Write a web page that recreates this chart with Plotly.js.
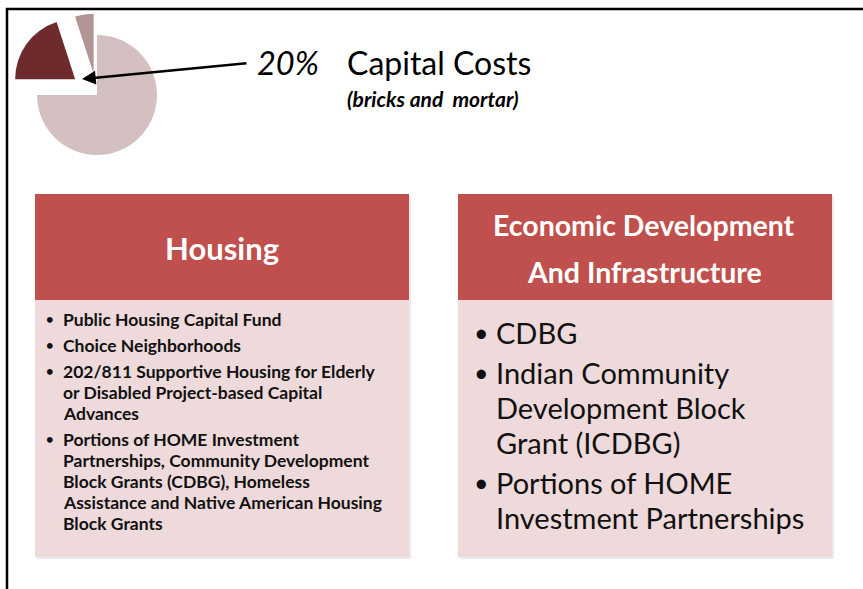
<!DOCTYPE html>
<html>
<head>
<meta charset="utf-8">
<script src="https://cdn.plot.ly/plotly-3.0.1.min.js"></script>
<style>html,body{margin:0;padding:0;background:#fff;}#chart{width:863px;height:589px;}</style>
</head>
<body>
<div id="chart"></div>
<script>
// ---- data ----
var pieLabels = ["Other costs", "Capital Costs", "Other"];
var pieValues = [75, 20, 5];
var piePull = [0, 0.45, 0.36];
var pieColors = ["#d5c0c1", "#6e2b2e", "#b39495"];

var calloutPercent = "20%";
var calloutTitle = "Capital Costs";
var calloutSubtitle = "(bricks and  mortar)";

var housingTitle = ["Housing"];
var housingItems = [
  ["Public Housing Capital Fund"],
  ["Choice Neighborhoods"],
  ["202/811 Supportive Housing for Elderly", "or Disabled Project-based Capital", "Advances"],
  ["Portions of HOME Investment", "Partnerships, Community Development", "Block Grants (CDBG), Homeless", "Assistance and Native American Housing", "Block Grants"]
];

var econTitle = ["Economic Development", "And Infrastructure"];
var econItems = [
  ["CDBG"],
  ["Indian Community", "Development Block", "Grant (ICDBG)"],
  ["Portions of HOME", "Investment Partnerships"]
];

// ---- layout helpers ----
var W = 863, H = 589;
var FONT = "Lato, 'Open Sans', sans-serif";
var headerColor = "#c0504d";
var bodyColor = "#eedada";

var shapes = [];
var annotations = [];

function addBox(x0, x1, yTop, yHead, yBot) {
  shapes.push({type: "rect", xref: "x", yref: "y", x0: x0 + 2, x1: x1 + 2, y0: yTop + 2, y1: yBot + 2,
    fillcolor: "rgba(0,0,0,0.08)", line: {width: 0}, layer: "below"});
  shapes.push({type: "rect", xref: "x", yref: "y", x0: x0, x1: x1, y0: yHead, y1: yBot,
    fillcolor: bodyColor, line: {width: 0}, layer: "below"});
  shapes.push({type: "rect", xref: "x", yref: "y", x0: x0, x1: x1, y0: yTop, y1: yHead,
    fillcolor: headerColor, line: {width: 0}, layer: "below"});
}

function addText(txt, x, y, size, opts) {
  opts = opts || {};
  annotations.push({
    xref: "x", yref: "y", x: x, y: y, text: txt, showarrow: false,
    xanchor: opts.xanchor || "left", yanchor: "middle",
    font: {family: FONT, size: size, color: opts.color || "#111", weight: opts.weight || "normal",
      style: opts.style || "normal"}
  });
}

function addItems(items, bulletX, textX, yStart, lineStep, itemGap, size, bulletSize, weight) {
  var y = yStart;
  items.forEach(function (lines) {
    addText("\u2022", bulletX, y, bulletSize, {weight: weight, xanchor: "center"});
    lines.forEach(function (ln) {
      addText(ln, textX, y, size, {weight: weight});
      y += lineStep;
    });
    y += itemGap;
  });
}

// Boxes
addBox(35, 409, 194, 300, 557);
addBox(458, 832, 194, 300, 557);

// Headers
addText(housingTitle[0], 222, 248, 31, {xanchor: "center", color: "#ffffff", weight: "bold"});
addText(econTitle[0], 644, 225, 28.5, {xanchor: "center", color: "#ffffff", weight: "bold"});
addText(econTitle[1], 644, 272, 28.5, {xanchor: "center", color: "#ffffff", weight: "bold"});

// Bodies
addItems(housingItems, 50, 61, 319, 21, 5, 17.5, 13, "bold");
addItems(econItems, 481, 494, 332, 35, 5, 29, 25, "normal");

// Callout
addText(calloutPercent, 288, 62, 32.5, {xanchor: "center", style: "italic", color: "#000"});
addText(calloutTitle, 345, 62, 32, {color: "#000"});
addText(calloutSubtitle, 345, 98, 21, {style: "italic", weight: "bold", color: "#000"});

// Arrow
annotations.push({xref: "x", yref: "y", axref: "x", ayref: "y", x: 82, y: 79, ax: 248, ay: 63,
  text: "", showarrow: true, arrowhead: 2, arrowsize: 1.1, arrowwidth: 2.5, arrowcolor: "#000"});

// Frame (top and left edges)
shapes.push({type: "line", xref: "x", yref: "y", x0: 6, x1: W, y0: 9, y1: 9, line: {color: "#000", width: 2.5}});
shapes.push({type: "line", xref: "x", yref: "y", x0: 7, x1: 7, y0: 8, y1: H, line: {color: "#000", width: 2.5}});

// Pie placement: center (97,95), radius 60
var cx = 97, cy = 95, r = 60;
var maxPull = Math.max.apply(null, piePull);
var half = r * (1 + maxPull);

var pie = {
  type: "pie",
  labels: pieLabels,
  values: pieValues,
  pull: piePull,
  sort: false,
  direction: "clockwise",
  rotation: 0,
  marker: {colors: pieColors, line: {width: 0}},
  textinfo: "none",
  hoverinfo: "none",
  showlegend: false,
  domain: {x: [(cx - half) / W, (cx + half) / W], y: [1 - (cy + half) / H, 1 - (cy - half) / H]}
};

var layout = {
  width: W, height: H,
  margin: {l: 0, r: 0, t: 0, b: 0},
  paper_bgcolor: "#ffffff", plot_bgcolor: "rgba(0,0,0,0)",
  xaxis: {range: [0, W], visible: false, fixedrange: true},
  yaxis: {range: [H, 0], visible: false, fixedrange: true},
  shapes: shapes,
  annotations: annotations,
  showlegend: false
};

Plotly.newPlot("chart", [pie], layout, {displayModeBar: false, staticPlot: true});
</script>
</body>
</html>
